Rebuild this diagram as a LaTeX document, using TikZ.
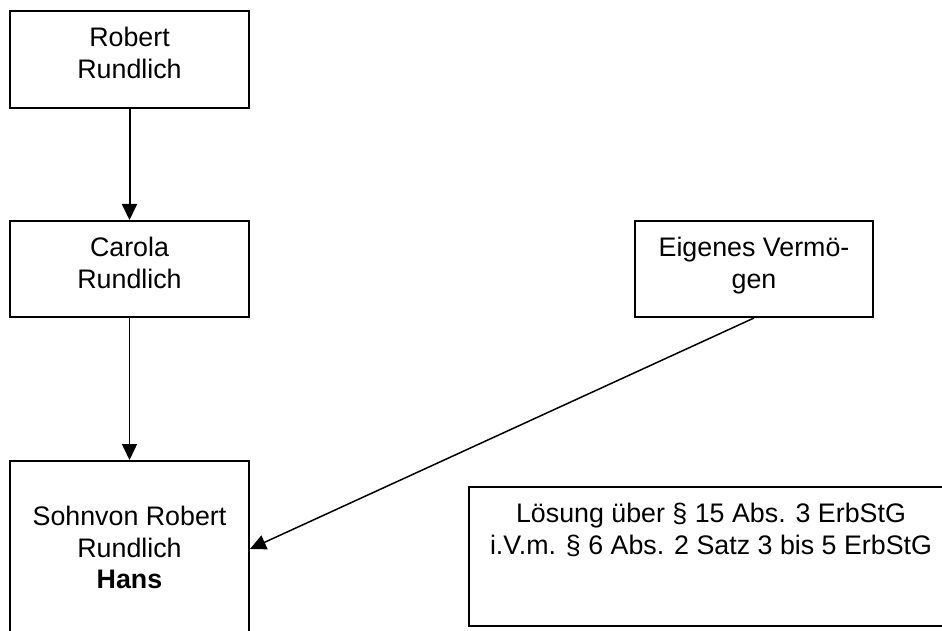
\documentclass[tikz,border=0pt]{standalone}
\usepackage{fontspec}
\setmainfont{Liberation Sans}
\usetikzlibrary{arrows.meta}
\begin{document}
\begin{tikzpicture}[x=1pt,y=-1pt,
  box/.style={draw=black, line width=2pt, rectangle, inner sep=0pt},
  txt/.style={anchor=north, inner sep=0pt, align=center,
    font=\fontsize{26.8pt}{31.5pt}\selectfont},
  link/.style={line width=1.5pt, -{Triangle[length=16pt,width=15pt]}}]
  \useasboundingbox (0,0) rectangle (942,631);

  % family boxes
  \node[box, minimum width=239pt, minimum height=97pt]  (robert) at (129.5,59.5) {};
  \node[box, minimum width=239pt, minimum height=96pt]  (carola) at (129.5,269) {};
  \node[box, minimum width=239pt, minimum height=176pt] (hans)   at (129.5,549) {};
  \node[box, minimum width=238pt, minimum height=96pt]  (eigen)  at (754,269) {};
  \node[box, minimum width=484pt, minimum height=139pt] (loesung) at (711,556.5) {};

  % box texts
  \node[txt] (trobert) at (129.5,27) {Robert\\Rundlich};
  \node[txt] (tcarola) at (129.5,237) {Carola\\Rundlich};
  \node[txt] (thans)   at (129.5,506) {Sohnvon Robert\\Rundlich\\\textbf{Hans}};
  \node[txt] (teigen)  at (754,237) {Eigenes Vermö-\\gen};
  \node[txt] (tloesung) at (711,503) {Lösung über § 15 Abs. 3 ErbStG\\i.V.m. § 6 Abs. 2 Satz 3 bis 5 ErbStG};

  % connectors
  \draw[link, line width=2pt] (robert.south) -- (carola.north);
  \draw[link] (carola.south) -- (hans.north);
  \draw[link] (eigen.south) -- (hans.east);
\end{tikzpicture}
\end{document}
